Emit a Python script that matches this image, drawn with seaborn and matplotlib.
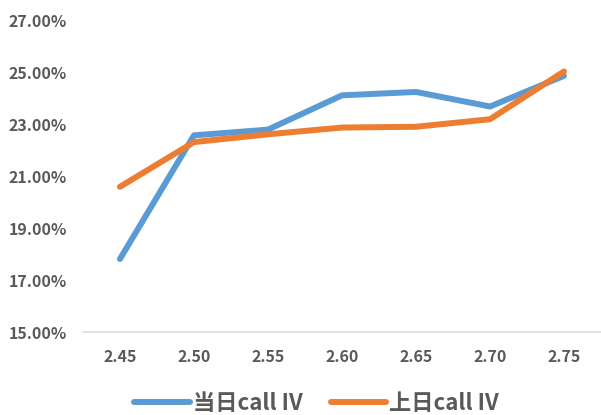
import pandas as pd
import numpy as np
import matplotlib
matplotlib.use("Agg")
import matplotlib.pyplot as plt
import seaborn as sns
from matplotlib.ticker import FuncFormatter

# strike prices and implied vols (in %)
strikes = ["2.45", "2.50", "2.55", "2.60", "2.65", "2.70", "2.75"]
iv_today = [17.82, 22.58, 22.80, 24.12, 24.25, 23.69, 24.87]
iv_prev = [20.60, 22.32, 22.62, 22.88, 22.91, 23.20, 25.04]
series_names = ["当日call IV", "上日call IV"]
y_ticks = [15, 17, 19, 21, 23, 25, 27]

df = pd.DataFrame({
    "strike": strikes * 2,
    "iv": iv_today + iv_prev,
    "series": [series_names[0]] * len(strikes) + [series_names[1]] * len(strikes),
})

sns.set_theme(style="white")
plt.rcParams["font.family"] = ["Noto Sans CJK SC", "DejaVu Sans"]
plt.rcParams["font.weight"] = "bold"

text_color = "#595959"
palette = {series_names[0]: "#5B9BD5", series_names[1]: "#ED7D31"}

fig = plt.figure(figsize=(6.01, 4.15), dpi=100)
ax = fig.add_axes([0.138, 0.1993, 0.862, 0.7513])

sns.lineplot(data=df, x="strike", y="iv", hue="series", palette=palette,
             linewidth=4.3, ax=ax, legend=False, sort=False)
for line in ax.get_lines():
    line.set_solid_capstyle("round")
    line.set_solid_joinstyle("round")

ax.set_xlim(-0.5, len(strikes) - 0.5)
ax.set_ylim(15, 27)
ax.set_yticks(y_ticks)
ax.yaxis.set_major_formatter(FuncFormatter(lambda v, p: f"{v:.2f}%"))
ax.set_xlabel("")
ax.set_ylabel("")

for s in ["top", "right", "left"]:
    ax.spines[s].set_visible(False)
ax.spines["bottom"].set_color("#D9D9D9")
ax.spines["bottom"].set_linewidth(1.1)
ax.tick_params(axis="both", length=0, labelsize=11.5, labelcolor=text_color)
ax.tick_params(axis="x", pad=12)
ax.tick_params(axis="y", pad=11.5)
for lab in ax.get_xticklabels() + ax.get_yticklabels():
    lab.set_fontweight("bold")

handles = [plt.Line2D([], [], color=palette[n], linewidth=4.3, solid_capstyle="round")
           for n in series_names]
leg = fig.legend(handles, series_names, loc="center", bbox_to_anchor=(0.527, 0.028),
                 ncol=2, frameon=False, handlelength=2.5, handletextpad=0.14,
                 columnspacing=1.25, prop={"size": 16, "weight": "bold"})
for t in leg.get_texts():
    t.set_color(text_color)

fig.savefig("out.png", dpi=100)
